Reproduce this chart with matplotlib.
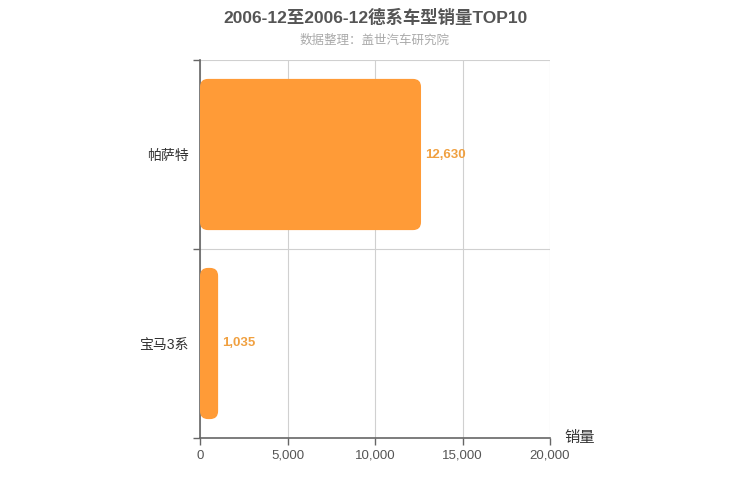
import matplotlib
matplotlib.use('Agg')
import matplotlib.pyplot as plt
from matplotlib.patches import FancyBboxPatch
from matplotlib.ticker import FuncFormatter, FixedLocator

plt.rcParams['font.family'] = ['Liberation Sans', 'Noto Sans CJK SC', 'DejaVu Sans']

# data (bottom to top)
models = ['宝马3系', '帕萨特']
sales = [1035, 12630]

title = '2006-12至2006-12德系车型销量TOP10'
subtitle = '数据整理：盖世汽车研究院'

bar_color = '#ff9b37'
label_color = '#f0a040'

fig = plt.figure(figsize=(7.5, 5), dpi=100)
ax = fig.add_axes([200 / 750, 1 - 438 / 500, 350 / 750, 378 / 500])

bars = ax.barh(range(len(models)), sales, height=0.8, color='none')

ax.set_xlim(0, 20000)
ax.set_ylim(-0.5, len(models) - 0.5)

# rounded bars built from the bar geometry
x_per_px = 20000 / 350
y_per_px = len(models) / 378
for b in bars:
    x0, y0 = b.get_x(), b.get_y()
    w, h = b.get_width(), b.get_height()
    r = min(8 * x_per_px, w / 2)
    p = FancyBboxPatch((x0, y0), w, h,
                       boxstyle='round,pad=0,rounding_size=%f' % r,
                       mutation_aspect=y_per_px / x_per_px,
                       facecolor=bar_color, edgecolor='none', zorder=3)
    ax.add_patch(p)
    ax.text(x0 + w + 250, y0 + h / 2, '{:,}'.format(int(w)),
            va='center', ha='left', color=label_color,
            fontsize=9.5, fontweight='bold', zorder=4)

ax.set_xticks([0, 5000, 10000, 15000, 20000])
ax.xaxis.set_major_formatter(FuncFormatter(lambda v, p: '{:,}'.format(int(v))))
ax.set_yticks(range(len(models)))
ax.set_yticklabels(models)
ax.yaxis.set_minor_locator(FixedLocator([i - 0.5 for i in range(len(models) + 1)]))

ax.grid(axis='x', color='#d0d0d0', linewidth=0.8, zorder=0)
ax.grid(axis='y', which='minor', color='#d0d0d0', linewidth=0.8, zorder=0)

for s in ['top', 'right']:
    ax.spines[s].set_visible(False)
for s in ['left', 'bottom']:
    ax.spines[s].set_color('#666666')
    ax.spines[s].set_linewidth(1.2)

ax.tick_params(axis='x', colors='#666666', labelsize=9.5, length=5, width=1, labelcolor='#555555')
ax.tick_params(axis='y', which='major', length=0, pad=8, labelsize=10, labelcolor='#333333')
ax.tick_params(axis='y', which='minor', length=5, width=1, color='#666666')

ax.text(1.04, 0.0, '销量', transform=ax.transAxes, fontsize=11,
        color='#333333', ha='left', va='center')

fig.text(0.5, 1 - 17 / 500, title, ha='center', va='center',
         fontsize=12.5, fontweight='bold', color='#555555')
fig.text(0.5, 1 - 41 / 500, subtitle, ha='center', va='center',
         fontsize=9, color='#aaaaaa')

fig.savefig('out.png', dpi=100)
